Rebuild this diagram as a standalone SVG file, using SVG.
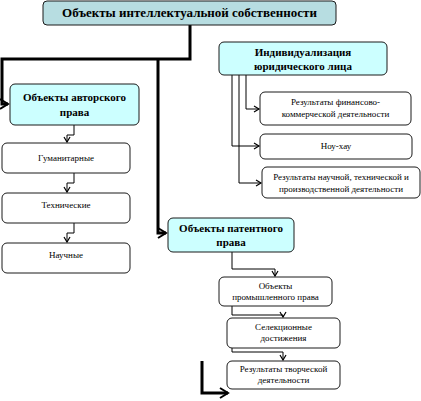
<svg xmlns="http://www.w3.org/2000/svg" width="421" height="401" viewBox="0 0 421 401" font-family="'Liberation Serif', 'DejaVu Serif', serif">
<style>
.box{stroke:#1a1a1a;stroke-width:1;fill:#fff}
.title{fill:#b7dde1}
.cyan{fill:#ccffff}
.t{font-family:'Liberation Serif','DejaVu Serif',serif;fill:#000;text-anchor:middle}
.b{font-weight:bold;font-size:11px}
.s{font-size:9px}
.thin{fill:none;stroke:#000;stroke-width:1}
.thick{fill:none;stroke:#000;stroke-width:3}
</style>
<defs>
<marker id="a" markerWidth="8" markerHeight="8" refX="6" refY="4" orient="auto" markerUnits="userSpaceOnUse">
<path d="M1,1 L6,4 L1,7" fill="none" stroke="#000" stroke-width="1.2"/>
</marker>
<marker id="A" markerWidth="12" markerHeight="12" refX="9" refY="6" orient="auto" markerUnits="userSpaceOnUse">
<path d="M1,1 L9,6 L1,11" fill="none" stroke="#000" stroke-width="2"/>
</marker>
</defs>
<g id="connectors">
<path class="thick" d="M190,25 V59 H2 V104 H8" marker-end="url(#A)"/>
<path class="thick" d="M158,59 V233 H166" marker-end="url(#A)"/>
<path class="thick" d="M202,361 V393 H228" marker-end="url(#A)"/>
<path class="thin" d="M246,75 V109 H259" marker-end="url(#a)"/>
<path class="thin" d="M232,75 V146 H259" marker-end="url(#a)"/>
<path class="thin" d="M239,75 V183 H261" marker-end="url(#a)"/>
<path class="thin" d="M74,125 V135 H67 V142" marker-end="url(#a)"/>
<path class="thin" d="M74,173 V183 H67 V192" marker-end="url(#a)"/>
<path class="thin" d="M74,223 V233 H67 V242" marker-end="url(#a)"/>
<path class="thin" d="M232,252 V269 H275 V276" marker-end="url(#a)"/>
<path class="thin" d="M232,306 V315 H283 V317" marker-end="url(#a)"/>
<path class="thin" d="M232,348 V352 H283 V360" marker-end="url(#a)"/>
</g>
<g id="n-title">
<rect class="box title" x="43" y="1" width="293" height="24" rx="4"/>
<text class="t" x="189.5" y="17" font-weight="bold" font-size="13">Объекты интеллектуальной собственности</text>
</g>
<g id="n-author">
<rect class="box cyan" x="10" y="84" width="129" height="41" rx="5"/>
<text class="t b" x="74.5" y="101">Объекты авторского</text>
<text class="t b" x="74.5" y="116">права</text>
</g>
<g id="n-indiv">
<rect class="box cyan" x="219" y="42" width="168" height="33" rx="5"/>
<text class="t b" x="303" y="56">Индивидуализация</text>
<text class="t b" x="303" y="70">юридического лица</text>
</g>
<g id="n-fin">
<rect class="box" x="260" y="92" width="151" height="33" rx="5"/>
<text class="t s" x="335.5" y="105">Результаты финансово-</text>
<text class="t s" x="335.5" y="117">коммерческой деятельности</text>
</g>
<g id="n-know">
<rect class="box" x="260" y="134" width="152" height="25" rx="5"/>
<text class="t s" x="336" y="149">Ноу-хау</text>
</g>
<g id="n-sci">
<rect class="box" x="262" y="167" width="158" height="31" rx="5"/>
<text class="t s" x="341" y="180">Результаты научной, технической и</text>
<text class="t s" x="341" y="192">производственной деятельности</text>
</g>
<g id="n-hum">
<rect class="box" x="2" y="143" width="128" height="30" rx="5"/>
<text class="t s" x="66" y="161">Гуманитарные</text>
</g>
<g id="n-tech">
<rect class="box" x="2" y="193" width="128" height="30" rx="5"/>
<text class="t s" x="66" y="208">Технические</text>
</g>
<g id="n-nauch">
<rect class="box" x="2" y="243" width="128" height="30" rx="5"/>
<text class="t s" x="66" y="258">Научные</text>
</g>
<g id="n-patent">
<rect class="box cyan" x="168" y="218" width="126" height="34" rx="5"/>
<text class="t b" x="231" y="232">Объекты патентного</text>
<text class="t b" x="231" y="246">права</text>
</g>
<g id="n-prom">
<rect class="box" x="219" y="277" width="113" height="29" rx="5"/>
<text class="t s" x="275.5" y="289">Объекты</text>
<text class="t s" x="275.5" y="300">промышленного права</text>
</g>
<g id="n-sel">
<rect class="box" x="227" y="318" width="113" height="30" rx="5"/>
<text class="t s" x="283.5" y="330">Селекционные</text>
<text class="t s" x="283.5" y="341">достижения</text>
</g>
<g id="n-tvor">
<rect class="box" x="227" y="361" width="113" height="28" rx="5"/>
<text class="t s" x="283.5" y="372">Результаты творческой</text>
<text class="t s" x="283.5" y="383">деятельности</text>
</g>
</svg>
